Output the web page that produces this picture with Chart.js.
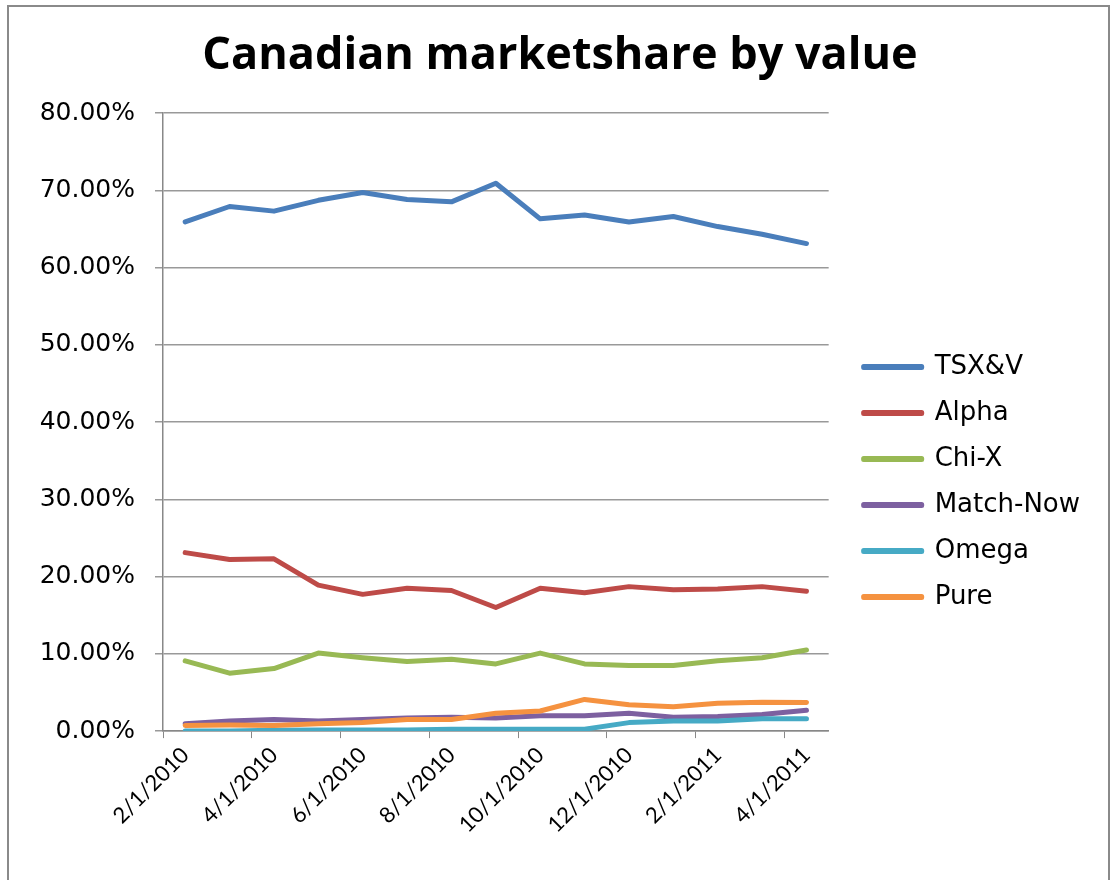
<!DOCTYPE html>
<html><head><meta charset="utf-8">
<script src="https://cdn.jsdelivr.net/npm/chart.js@4.4.0/dist/chart.umd.min.js"></script>
<style>html,body{margin:0;padding:0;background:#fff;}</style>
</head><body>
<canvas id="c" width="1113" height="880"></canvas>
<script>
const categories = ['2/1/2010','3/1/2010','4/1/2010','5/1/2010','6/1/2010','7/1/2010','8/1/2010','9/1/2010','10/1/2010','11/1/2010','12/1/2010','1/1/2011','2/1/2011','3/1/2011','4/1/2011'];
const seriesNames = ['TSX&V','Alpha','Chi-X','Match-Now','Omega','Pure'];
const seriesColors = ['#4A7EBB','#BE4B48','#98B954','#7D60A0','#46AAC5','#F59240'];
const tsxV     = [65.9, 67.9, 67.3, 68.7, 69.7, 68.8, 68.5, 70.9, 66.3, 66.8, 65.9, 66.6, 65.3, 64.3, 63.1];
const alpha    = [23.1, 22.2, 22.3, 18.9, 17.7, 18.5, 18.2, 16.0, 18.5, 17.9, 18.7, 18.3, 18.4, 18.7, 18.1];
const chiX     = [9.1, 7.5, 8.1, 10.1, 9.5, 9.0, 9.3, 8.7, 10.1, 8.7, 8.5, 8.5, 9.1, 9.5, 10.5];
const matchNow = [0.95, 1.3, 1.5, 1.3, 1.5, 1.7, 1.8, 1.7, 2.0, 2.0, 2.3, 1.8, 1.9, 2.15, 2.7];
const omega    = [0.0, 0.0, 0.1, 0.15, 0.15, 0.15, 0.25, 0.25, 0.25, 0.25, 1.1, 1.3, 1.3, 1.6, 1.6];
const pure     = [0.73, 0.78, 0.73, 0.95, 1.1, 1.5, 1.5, 2.3, 2.6, 4.1, 3.4, 3.15, 3.6, 3.75, 3.7];
const yTicks = { min: 0, max: 80, step: 10 };
const seriesValues = [tsxV, alpha, chiX, matchNow, omega, pure];

const framePlugin = {
  id: 'frame',
  beforeDraw(chart) {
    const c = chart.ctx;
    c.save();
    c.fillStyle = '#fff';
    c.fillRect(0, 0, chart.width, chart.height);
    c.strokeStyle = '#8a8a8a';
    c.lineWidth = 2;
    c.strokeRect(8, 6, chart.width - 12, chart.height + 10);
    c.restore();
  }
};

new Chart(document.getElementById('c'), {
  type: 'line',
  data: {
    labels: categories,
    datasets: seriesNames.map((name, i) => ({
      label: name,
      data: seriesValues[i],
      borderColor: seriesColors[i],
      backgroundColor: seriesColors[i],
      borderWidth: 5,
      pointRadius: 0,
      tension: 0,
      borderJoinStyle: 'round',
      borderCapStyle: 'round',
      yAxisID: 'y',
      order: seriesNames.length - i
    }))
  },
  options: {
    responsive: false,
    animation: false,
    layout: { padding: { left: 30, right: 23, top: 0, bottom: 38 } },
    plugins: {
      title: {
        display: true,
        text: 'Canadian marketshare by value',
        color: '#000',
        font: { family: 'Open Sans', weight: 'bold', size: 45 },
        padding: { top: 29, bottom: 30 }
      },
      legend: {
        position: 'right',
        maxWidth: 320,
        title: { display: true, text: ' ', color: 'rgba(0,0,0,0)', font: { size: 10 }, padding: { top: 110, bottom: 0 } },
        labels: {
          boxWidth: 58,
          boxHeight: 1,
          padding: 20,
          color: '#000',
          font: { family: 'DejaVu Sans', size: 26 },
          sort: (a, b) => a.datasetIndex - b.datasetIndex
        }
      },
      tooltip: { enabled: false }
    },
    scales: {
      x: {
        offset: true,
        grid: {
          offset: true,
          drawOnChartArea: false,
          drawTicks: true,
          tickLength: 7,
          color: (ctx) => (ctx.index % 2 === 0 && ctx.index < categories.length) ? '#888' : 'rgba(0,0,0,0)'
        },
        border: { display: true, color: '#888', width: 1.5 },
        ticks: {
          autoSkip: false,
          maxRotation: 45,
          minRotation: 45,
          padding: 4,
          color: '#000',
          font: { family: 'Lato', size: 22 },
          callback: (v, i) => (i % 2 === 0 ? categories[i] : '')
        }
      },
      y: {
        min: yTicks.min,
        max: yTicks.max,
        grid: { color: '#999', lineWidth: 1.5, tickLength: 8 },
        border: { display: true, color: '#888', width: 1.5 },
        afterFit: (s) => { s.width = 133; },
        ticks: {
          stepSize: yTicks.step,
          padding: 20,
          color: '#000',
          font: { family: 'DejaVu Sans', size: 25 },
          callback: (v) => Number(v).toFixed(2) + '%'
        }
      },
      gap: {
        type: 'linear',
        position: 'right',
        display: true,
        grid: { display: false, drawTicks: false },
        border: { display: false },
        ticks: { display: false },
        afterFit: (s) => { s.width = 15; }
      }
    }
  },
  plugins: [framePlugin]
});
</script>
</body></html>
